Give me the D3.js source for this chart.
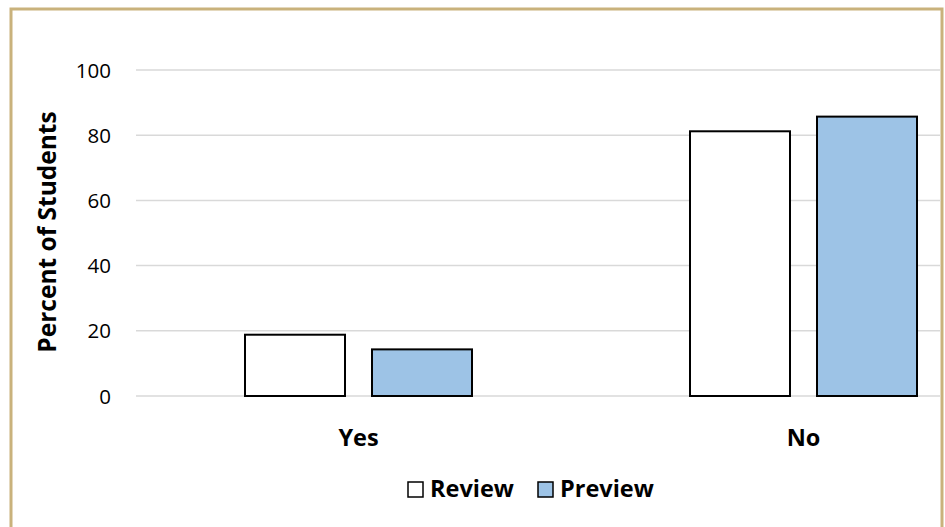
<!DOCTYPE html>
<html>
<head>
<meta charset="utf-8">
<script src="https://cdn.jsdelivr.net/npm/d3@7"></script>
<style>
  html, body { margin: 0; padding: 0; background: #fff; }
  svg { display: block; }
  text { font-family: "Open Sans", "Noto Sans", sans-serif; fill: #000; }
</style>
</head>
<body>
<svg id="chart" width="945" height="527"></svg>
<script>
// Survey answers, percent of students per group
const categories = ["Yes", "No"];
const seriesNames = ["Review", "Preview"];
const reviewValues = [18.8, 81.2];
const previewValues = [14.3, 85.7];
const yTicks = [0, 20, 40, 60, 80, 100];

const seriesColors = { Review: "#ffffff", Preview: "#9dc3e6" };

const svg = d3.select("#chart");

// outer frame
svg.append("rect")
  .attr("x", 11).attr("y", 9)
  .attr("width", 931).attr("height", 540)
  .attr("fill", "#fff")
  .attr("stroke", "#c9b27c")
  .attr("stroke-width", 3);

const plot = { left: 136, right: 1026, top: 70, bottom: 396 };

svg.append("defs").append("clipPath").attr("id", "frameClip")
  .append("rect").attr("x", 12.5).attr("y", 10.5).attr("width", 928).attr("height", 520);

const x0 = d3.scaleBand().domain(categories).range([plot.left, plot.right]);
const y = d3.scaleLinear().domain([0, 100]).range([plot.bottom, plot.top]);

const g = svg.append("g").attr("clip-path", "url(#frameClip)");

// gridlines
g.selectAll("line.grid").data(yTicks).join("line")
  .attr("class", "grid")
  .attr("x1", plot.left).attr("x2", plot.right)
  .attr("y1", d => y(d)).attr("y2", d => y(d))
  .attr("stroke", "#d9d9d9").attr("stroke-width", 1.5);

// y tick labels
const yAxis = d3.axisLeft(y).tickValues(yTicks).tickSize(0).tickPadding(0);
const yAxisG = svg.append("g").attr("transform", "translate(111,0)").call(yAxis);
yAxisG.select(".domain").remove();
yAxisG.selectAll("text")
  .attr("font-size", 20.5)
  .attr("font-family", "'Open Sans', 'Noto Sans', sans-serif")
  .attr("fill", "#000")
  .attr("dy", "0.35em");

// bars: two per category, fixed width with a small gap between them
const barWidth = 100, barGap = 27;
const x1 = d3.scaleBand().domain(seriesNames)
  .range([0, 2 * barWidth + barGap])
  .paddingInner(barGap / (barWidth + barGap));
const rows = categories.map((c, i) => ({ cat: c, vals: [
  { name: "Review", v: reviewValues[i] },
  { name: "Preview", v: previewValues[i] }
]}));

const groups = g.selectAll("g.cat").data(rows).join("g")
  .attr("class", "cat")
  .attr("transform", d => `translate(${x0(d.cat) + x0.bandwidth() / 2 - (2 * barWidth + barGap) / 2},0)`);

groups.selectAll("rect").data(d => d.vals).join("rect")
  .attr("x", d => x1(d.name))
  .attr("width", x1.bandwidth())
  .attr("y", d => y(d.v))
  .attr("height", d => y(0) - y(d.v))
  .attr("fill", d => seriesColors[d.name])
  .attr("stroke", "#000")
  .attr("stroke-width", 2);

// category labels
svg.selectAll("text.cat").data(categories).join("text")
  .attr("class", "cat")
  .attr("x", d => x0(d) + x0.bandwidth() / 2)
  .attr("y", 446)
  .attr("text-anchor", "middle")
  .attr("font-size", 23.5)
  .attr("font-weight", "bold")
  .text(d => d);

// y axis title
svg.append("text")
  .attr("transform", "translate(56,232) rotate(-90)")
  .attr("text-anchor", "middle")
  .attr("font-size", 24.5)
  .attr("font-weight", "bold")
  .text("Percent of Students");

// legend
const legendItems = [
  { name: "Review", sx: 408, tx: 430 },
  { name: "Preview", sx: 538, tx: 560 }
];
const lg = svg.append("g");
legendItems.forEach(it => {
  lg.append("rect")
    .attr("x", it.sx).attr("y", 482)
    .attr("width", 15).attr("height", 15)
    .attr("fill", seriesColors[it.name])
    .attr("stroke", "#000").attr("stroke-width", 1.5);
  lg.append("text")
    .attr("x", it.tx).attr("y", 497)
    .attr("font-size", 23.5)
    .attr("font-weight", "bold")
    .text(it.name);
});
</script>
</body>
</html>
